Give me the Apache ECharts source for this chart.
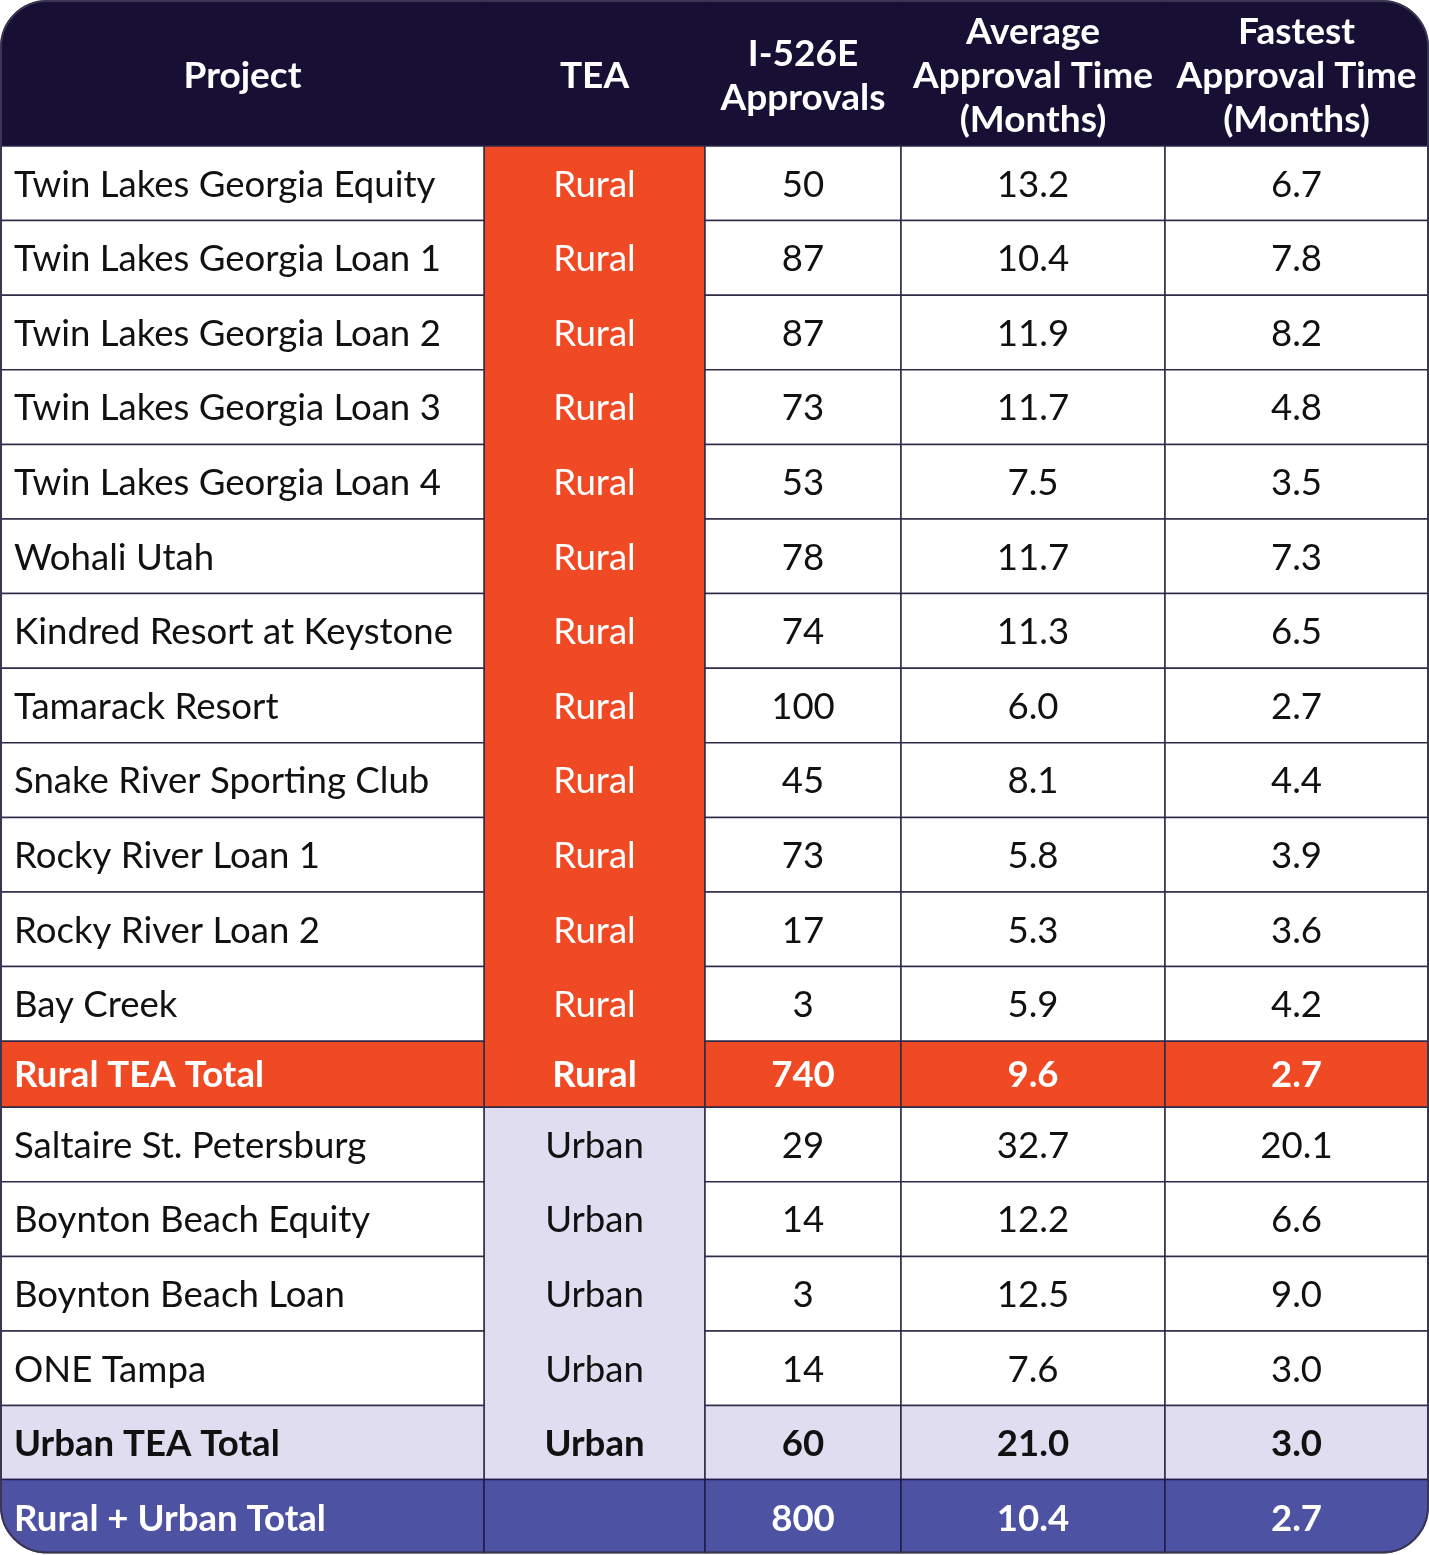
<!DOCTYPE html>
<html>
<head>
<meta charset="utf-8">
<title>EB-5 TEA approvals</title>
<script src="https://cdn.jsdelivr.net/npm/echarts@6/dist/echarts.min.js"></script>
<style>
  html, body { margin: 0; padding: 0; background: #fff; }
  #main { width: 1429px; height: 1555px; }
</style>
</head>
<body>
<div id="main"></div>
<script>
// table values
const headers = ['Project', 'TEA', 'I-526E\nApprovals', 'Average\nApproval Time\n(Months)', 'Fastest\nApproval Time\n(Months)'];

const ruralProjects = ['Twin Lakes Georgia Equity', 'Twin Lakes Georgia Loan 1', 'Twin Lakes Georgia Loan 2',
	'Twin Lakes Georgia Loan 3', 'Twin Lakes Georgia Loan 4', 'Wohali Utah', 'Kindred Resort at Keystone',
	'Tamarack Resort', 'Snake River Sporting Club', 'Rocky River Loan 1', 'Rocky River Loan 2', 'Bay Creek'];
const ruralApprovals = [50, 87, 87, 73, 53, 78, 74, 100, 45, 73, 17, 3];
const ruralAvg = [13.2, 10.4, 11.9, 11.7, 7.5, 11.7, 11.3, 6.0, 8.1, 5.8, 5.3, 5.9];
const ruralFast = [6.7, 7.8, 8.2, 4.8, 3.5, 7.3, 6.5, 2.7, 4.4, 3.9, 3.6, 4.2];

const urbanProjects = ['Saltaire St. Petersburg', 'Boynton Beach Equity', 'Boynton Beach Loan', 'ONE Tampa'];
const urbanApprovals = [29, 14, 3, 14];
const urbanAvg = [32.7, 12.2, 12.5, 7.6];
const urbanFast = [20.1, 6.6, 9.0, 3.0];

const totalLabels = ['Rural TEA Total', 'Urban TEA Total', 'Rural + Urban Total'];
const totalTea = ['Rural', 'Urban', ''];
const totalApprovals = [740, 60, 800];
const totalAvg = [9.6, 21.0, 10.4];
const totalFast = [2.7, 3.0, 2.7];

// layout (table units on the value axes)
const colWidths = [483, 221, 196, 264, 263];
const headerH = 145;
const rowH = 74.6;
const ruralTotalH = 66;
const totalRowH = 74;
const grandH = 73;
const corner = 46;

const NAVY = '#170f34', ORANGE = '#f04a24', LAVENDER = '#e0ddf1', INDIGO = '#4e52a3', LINE = '#2e2a47';

const colEdges = [1];
colWidths.forEach(w => colEdges.push(colEdges[colEdges.length - 1] + w));
const tableRight = colEdges[colEdges.length - 1];

const cells = [];
function addCell(c0, c1, y0, y1, opt) {
	cells.push(Object.assign({ x0: colEdges[c0], x1: colEdges[c1], y0: y0, y1: y1, dy: 1.5 }, opt));
}
function fmt(v) { return v.toFixed(1); }

let y = 1;
// header
headers.forEach((h, i) => {
	let r = 0;
	if (i === 0) r = [corner, 0, 0, 0];
	if (i === headers.length - 1) r = [0, corner, 0, 0];
	addCell(i, i + 1, y, y + headerH, { fill: NAVY, stroke: NAVY, r: r, text: h, bold: true, color: '#fff', dy: 3, size: 37 });
});
y += headerH;

// rural block
const ruralTop = y;
const ruralBottom = ruralTop + ruralProjects.length * rowH + ruralTotalH;
addCell(1, 2, ruralTop, ruralBottom, { fill: ORANGE, stroke: LINE });
ruralProjects.forEach((p, i) => {
	const vals = [p, 'Rural', String(ruralApprovals[i]), fmt(ruralAvg[i]), fmt(ruralFast[i])];
	vals.forEach((v, c) => {
		if (c === 1) {
			addCell(1, 2, y, y + rowH, { text: v, color: '#fff' });
		} else {
			addCell(c, c + 1, y, y + rowH, { fill: '#fff', stroke: LINE, text: v, left: c === 0 });
		}
	});
	y += rowH;
});
// rural total
[totalLabels[0], totalTea[0], String(totalApprovals[0]), fmt(totalAvg[0]), fmt(totalFast[0])].forEach((v, c) => {
	if (c === 1) {
		addCell(1, 2, y, y + ruralTotalH, { text: v, color: '#fff', bold: true });
	} else {
		addCell(c, c + 1, y, y + ruralTotalH, { fill: ORANGE, stroke: LINE, text: v, color: '#fff', bold: true, left: c === 0 });
	}
});
y += ruralTotalH;

// urban block
const urbanTop = y;
const urbanBottom = urbanTop + urbanProjects.length * rowH + totalRowH;
addCell(1, 2, urbanTop, urbanBottom, { fill: LAVENDER, stroke: LINE });
urbanProjects.forEach((p, i) => {
	const vals = [p, 'Urban', String(urbanApprovals[i]), fmt(urbanAvg[i]), fmt(urbanFast[i])];
	vals.forEach((v, c) => {
		if (c === 1) {
			addCell(1, 2, y, y + rowH, { text: v });
		} else {
			addCell(c, c + 1, y, y + rowH, { fill: '#fff', stroke: LINE, text: v, left: c === 0 });
		}
	});
	y += rowH;
});
[totalLabels[1], totalTea[1], String(totalApprovals[1]), fmt(totalAvg[1]), fmt(totalFast[1])].forEach((v, c) => {
	if (c === 1) {
		addCell(1, 2, y, y + totalRowH, { text: v, bold: true });
	} else {
		addCell(c, c + 1, y, y + totalRowH, { fill: LAVENDER, stroke: LINE, text: v, bold: true, left: c === 0 });
	}
});
y += totalRowH;

// grand total
[totalLabels[2], totalTea[2], String(totalApprovals[2]), fmt(totalAvg[2]), fmt(totalFast[2])].forEach((v, c) => {
	let r = 0;
	if (c === 0) r = [0, 0, 0, corner];
	if (c === 4) r = [0, 0, corner, 0];
	addCell(c, c + 1, y, y + grandH, { fill: INDIGO, stroke: '#1f1b48', r: r, text: v, color: '#fff', bold: true, left: c === 0, dy: 3 });
});
y += grandH;

// outer frame
cells.push({ x0: 1, x1: tableRight, y0: 1, y1: y, fill: 'none', stroke: '#3a3652', r: corner, lw: 2 });

function renderCell(params, api) {
	const c = cells[params.dataIndex];
	const p0 = api.coord([api.value(0), api.value(1)]);
	const p1 = api.coord([api.value(2), api.value(3)]);
	const x = p0[0], top = Math.min(p0[1], p1[1]);
	const w = p1[0] - p0[0], h = Math.abs(p1[1] - p0[1]);
	const children = [];
	if (c.fill || c.stroke) {
		children.push({
			type: 'rect',
			shape: { x: x, y: top, width: w, height: h, r: c.r || 0 },
			style: { fill: c.fill || 'none', stroke: c.stroke || 'none', lineWidth: c.lw || 1.5 }
		});
	}
	if (c.text) {
		children.push({
			type: 'text',
			style: {
				text: c.text,
				x: c.left ? x + 13 : x + w / 2,
				y: top + h / 2 + (c.dy || 0),
				align: c.left ? 'left' : 'center',
				verticalAlign: 'middle',
				fill: c.color || '#111',
				font: (c.bold ? 'bold ' : '') + (c.size || 36.6) + 'px Lato',
				lineHeight: 44
			}
		});
	}
	return { type: 'group', children: children };
}

const chart = echarts.init(document.getElementById('main'), null, { renderer: 'canvas' });
chart.setOption({
	backgroundColor: '#fff',
	animation: false,
	grid: { left: 0, right: 0, top: 0, bottom: 0 },
	xAxis: { type: 'value', min: 0, max: 1429, show: false },
	yAxis: { type: 'value', min: 0, max: 1555, inverse: true, show: false },
	series: [{
		type: 'custom',
		coordinateSystem: 'cartesian2d',
		renderItem: renderCell,
		clip: false,
		data: cells.map(c => [c.x0, c.y0, c.x1, c.y1])
	}]
});
</script>
</body>
</html>
